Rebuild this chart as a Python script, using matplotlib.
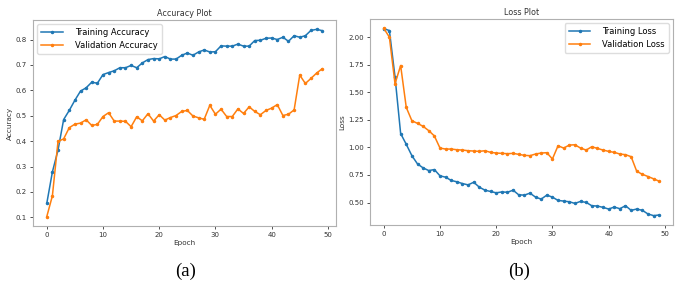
import matplotlib
matplotlib.use('Agg')
import matplotlib.pyplot as plt

# ==================================================================
# data

epochs = list(range(50))

train_acc = [0.155, 0.279, 0.365, 0.485, 0.521, 0.561, 0.597, 0.610, 0.632, 0.628,
             0.662, 0.670, 0.677, 0.689, 0.689, 0.698, 0.689, 0.708, 0.721, 0.725,
             0.724, 0.733, 0.723, 0.723, 0.738, 0.747, 0.738, 0.751, 0.759, 0.751,
             0.752, 0.775, 0.774, 0.774, 0.782, 0.774, 0.774, 0.796, 0.797, 0.805,
             0.806, 0.800, 0.809, 0.793, 0.815, 0.809, 0.815, 0.836, 0.840, 0.835]

val_acc = [0.103, 0.185, 0.399, 0.409, 0.453, 0.467, 0.471, 0.484, 0.462, 0.466,
           0.497, 0.512, 0.479, 0.479, 0.478, 0.457, 0.496, 0.480, 0.508, 0.479,
           0.504, 0.483, 0.493, 0.501, 0.517, 0.521, 0.499, 0.492, 0.486, 0.541,
           0.506, 0.526, 0.497, 0.497, 0.527, 0.509, 0.535, 0.517, 0.504, 0.521,
           0.530, 0.544, 0.501, 0.506, 0.523, 0.660, 0.627, 0.647, 0.668, 0.685]

train_loss = [2.078, 2.060, 1.640, 1.126, 1.028, 0.925, 0.850, 0.814, 0.790, 0.799,
              0.742, 0.730, 0.700, 0.688, 0.672, 0.660, 0.684, 0.639, 0.612, 0.600,
              0.588, 0.596, 0.593, 0.612, 0.570, 0.567, 0.585, 0.549, 0.531, 0.567,
              0.549, 0.519, 0.513, 0.507, 0.492, 0.510, 0.501, 0.471, 0.468, 0.456,
              0.441, 0.459, 0.444, 0.471, 0.429, 0.441, 0.429, 0.396, 0.381, 0.387]

val_loss = [2.080, 2.000, 1.577, 1.743, 1.363, 1.242, 1.218, 1.191, 1.152, 1.104,
            0.994, 0.985, 0.985, 0.979, 0.976, 0.970, 0.967, 0.964, 0.970, 0.955,
            0.949, 0.946, 0.943, 0.946, 0.937, 0.928, 0.925, 0.940, 0.949, 0.952,
            0.895, 1.015, 0.994, 1.021, 1.024, 0.994, 0.976, 1.006, 0.991, 0.976,
            0.964, 0.955, 0.940, 0.934, 0.916, 0.783, 0.756, 0.736, 0.715, 0.693]

# ==================================================================

BLUE = '#1f77b4'
ORANGE = '#ff7f0e'
TXT = '#333333'

fig = plt.figure(figsize=(6.9, 2.91), dpi=100)
ax1 = fig.add_axes([33 / 690, 1 - 226 / 291, 303 / 690, 206 / 291])
ax2 = fig.add_axes([370 / 690, 1 - 225 / 291, 303 / 690, 206 / 291])


def style_axes(ax, title, ylabel):
    ax.set_title(title, fontsize=5.8, color=TXT, pad=3)
    ax.set_xlabel('Epoch', fontsize=5.2, color=TXT, labelpad=1.5)
    ax.set_ylabel(ylabel, fontsize=5.2, color=TXT, labelpad=2)
    ax.tick_params(labelsize=5, colors=TXT, length=2.5, width=0.6, pad=1.8)
    ax.set_xticks([0, 10, 20, 30, 40, 50])
    for s in ax.spines.values():
        s.set_color('#b0b0b0')
        s.set_linewidth(0.8)


def legend(ax, loc):
    ax.legend(loc=loc, fontsize=6, handlelength=2.6, borderpad=0.5,
              labelspacing=0.4, handletextpad=1.4, framealpha=1,
              edgecolor='#dddddd', fancybox=True)


ax1.plot(epochs, train_acc, color=BLUE, marker='.', markersize=3, linewidth=1.1,
         label='Training Accuracy')
ax1.plot(epochs, val_acc, color=ORANGE, marker='.', markersize=3, linewidth=1.1,
         label='Validation Accuracy')
style_axes(ax1, 'Accuracy Plot', 'Accuracy')
ax1.set_yticks([0.1, 0.2, 0.3, 0.4, 0.5, 0.6, 0.7, 0.8])
legend(ax1, 'upper left')

ax2.plot(epochs, train_loss, color=BLUE, marker='.', markersize=3, linewidth=1.1,
         label='Training Loss')
ax2.plot(epochs, val_loss, color=ORANGE, marker='.', markersize=3, linewidth=1.1,
         label='Validation Loss')
style_axes(ax2, 'Loss Plot', 'Loss')
ax2.set_yticks([0.5, 0.75, 1.0, 1.25, 1.5, 1.75, 2.0])
ax2.set_yticklabels(['0.50', '0.75', '1.00', '1.25', '1.50', '1.75', '2.00'])
legend(ax2, 'upper right')

fig.text(186 / 690, 1 - 271 / 291, '(a)', fontsize=13.5, family='Liberation Serif',
         ha='center', va='center')
fig.text(519 / 690, 1 - 271 / 291, '(b)', fontsize=13.5, family='Liberation Serif',
         ha='center', va='center')

fig.savefig('out.png', dpi=100)
